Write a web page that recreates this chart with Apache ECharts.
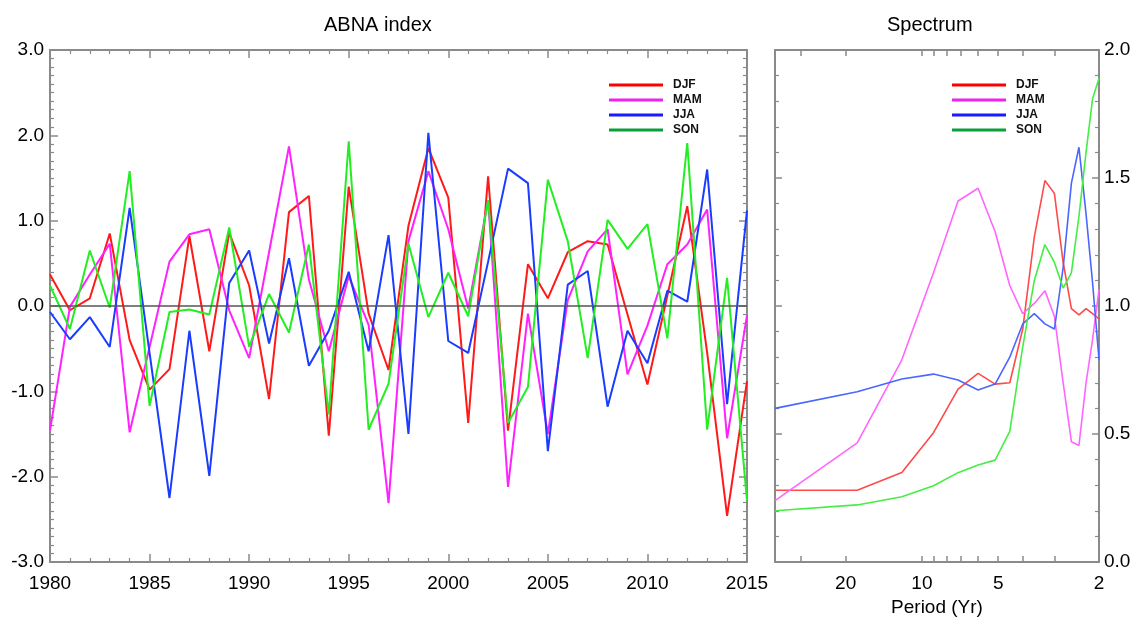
<!DOCTYPE html>
<html>
<head>
<meta charset="utf-8">
<script src="https://cdn.jsdelivr.net/npm/echarts@6/dist/echarts.min.js"></script>
<style>
html,body{margin:0;padding:0;background:#fff;}
#chart{width:1143px;height:626px;}
</style>
</head>
<body>
<div id="chart"></div>
<script>
// ---- ABNA index (left panel) ----
const years = [1980,1981,1982,1983,1984,1985,1986,1987,1988,1989,1990,1991,1992,1993,1994,1995,1996,1997,1998,1999,2000,2001,2002,2003,2004,2005,2006,2007,2008,2009,2010,2011,2012,2013,2014,2015];
const djf = [0.37,-0.05,0.09,0.85,-0.40,-0.98,-0.74,0.82,-0.53,0.86,0.24,-1.09,1.10,1.29,-1.52,1.40,-0.09,-0.75,0.94,1.85,1.27,-1.37,1.52,-1.46,0.49,0.09,0.63,0.76,0.72,-0.10,-0.92,0.12,1.17,-0.55,-2.46,-0.88];
const mam = [-1.46,-0.01,0.37,0.73,-1.48,-0.48,0.52,0.84,0.90,-0.05,-0.61,0.63,1.87,0.31,-0.53,0.35,-0.22,-2.31,0.76,1.58,0.90,-0.03,1.24,-2.12,-0.09,-1.50,0.07,0.64,0.90,-0.80,-0.23,0.49,0.72,1.13,-1.55,-0.11];
const jja = [-0.07,-0.39,-0.13,-0.48,1.15,-0.55,-2.25,-0.29,-1.99,0.27,0.65,-0.44,0.56,-0.70,-0.29,0.40,-0.53,0.83,-1.50,2.03,-0.41,-0.55,0.52,1.61,1.44,-1.70,0.25,0.41,-1.18,-0.29,-0.67,0.18,0.05,1.60,-1.15,1.12];
const son = [0.24,-0.27,0.65,-0.02,1.58,-1.17,-0.07,-0.04,-0.10,0.92,-0.48,0.14,-0.31,0.72,-1.27,1.93,-1.45,-0.91,0.73,-0.13,0.39,-0.12,1.24,-1.37,-0.95,1.48,0.76,-0.61,1.01,0.67,0.96,-0.38,1.91,-1.45,0.33,-2.28];

// ---- Spectrum (right panel) ----
const periods = [38,18,12,9,7.2,6,5.14,4.5,4,3.6,3.27,3,2.77,2.57,2.4,2.25,2.12,2];
const djfSpec = [0.28,0.28,0.35,0.505,0.675,0.737,0.695,0.70,0.91,1.27,1.49,1.44,1.17,0.99,0.965,0.99,0.97,0.95];
const mamSpec = [0.24,0.465,0.79,1.13,1.41,1.46,1.29,1.08,0.97,1.01,1.06,0.96,0.70,0.47,0.455,0.70,0.87,1.065];
const jjaSpec = [0.60,0.665,0.715,0.734,0.711,0.672,0.695,0.80,0.93,0.97,0.93,0.91,1.15,1.48,1.62,1.36,1.09,0.79];
const sonSpec = [0.20,0.223,0.255,0.298,0.349,0.379,0.398,0.51,0.84,1.10,1.24,1.17,1.07,1.13,1.35,1.60,1.81,1.89];

const periodLabels = [20,10,5,2];
const periodTicks = [30,20,10,9,8,7,6,5,4,3,2];
const seasons = ['DJF','MAM','JJA','SON'];

const lineColors = ['#ff1a1a','#ff22ff','#1a3cff','#22ee22'];
const specColors = ['#ff4a4a','#ff66ff','#4a66ff','#44ee44'];
const legendColors = ['#ff0000','#ee22ee','#1a1aff','#0a9f3c'];

const FONT = 'Liberation Sans, Arial, sans-serif';
const AX = '#8a8a8a';
const lg = Math.log10;

const chart = echarts.init(document.getElementById('chart'), null, {renderer:'canvas'});

const axLine = {show:true, onZero:false, lineStyle:{color:AX, width:2}};
const tick = (len)=>({show:true, inside:true, length:len, lineStyle:{color:AX, width:1.5}});
const minor = (n)=>({show:true, splitNumber:n, length:4, lineStyle:{color:AX, width:1.2}});
const lbl = {color:'#000', fontSize:19, fontFamily:FONT};

const idxSeries = [djf,mam,jja,son].map((arr,i)=>({
  name: seasons[i], type:'line', xAxisIndex:0, yAxisIndex:0,
  data: years.map((y,k)=>[y, arr[k]]),
  symbol:'none', lineStyle:{color:lineColors[i], width:2}, itemStyle:{color:lineColors[i]},
  z: 3, animation:false,
  markLine: i===0 ? {silent:true, symbol:'none', label:{show:false},
    lineStyle:{color:'#555', width:1.5, type:'solid'}, data:[{yAxis:0}]} : undefined
}));
const specSeries = [djfSpec,mamSpec,jjaSpec,sonSpec].map((arr,i)=>({
  name: seasons[i], type:'line', xAxisIndex:2, yAxisIndex:2,
  data: periods.map((p,k)=>[lg(p), arr[k]]),
  symbol:'none', lineStyle:{color:specColors[i], width:1.6}, itemStyle:{color:specColors[i]},
  z: 3, animation:false
}));

const legendData = seasons.map((s,i)=>({name:s, itemStyle:{color:legendColors[i]}}));
const legendBase = {
  orient:'vertical', icon:'rect', itemWidth:54, itemHeight:3, itemGap:3,
  textStyle:{fontSize:12, fontWeight:'bold', fontFamily:FONT, color:'#111', padding:[0,0,0,5]},
  data: legendData, selectedMode:false
};

chart.setOption({
  animation:false,
  backgroundColor:'#fff',
  title:[
    {text:'ABNA index', left:319, top:10, textStyle:{fontSize:20, fontWeight:'normal', fontFamily:FONT, color:'#000'}},
    {text:'Spectrum', left:882, top:10, textStyle:{fontSize:20, fontWeight:'normal', fontFamily:FONT, color:'#000'}}
  ],
  legend:[
    Object.assign({left:604, top:74}, legendBase),
    Object.assign({left:947, top:74}, legendBase)
  ],
  grid:[
    {left:50, top:50, width:697, height:512, containLabel:false},
    {left:775, top:50, width:324, height:512, containLabel:false}
  ],
  xAxis:[
    {type:'value', gridIndex:0, position:'bottom', min:1980, max:2015, interval:5,
     axisLine:axLine, axisTick:tick(8), minorTick:minor(5), splitLine:{show:false},
     axisLabel:Object.assign({margin:12, formatter:(v)=>String(v)}, lbl)},
    {type:'value', gridIndex:0, position:'top', min:1980, max:2015, interval:5,
     axisLine:axLine, axisTick:tick(8), minorTick:minor(5), splitLine:{show:false},
     axisLabel:{show:false}},
    {type:'value', gridIndex:1, position:'bottom', inverse:true, min:lg(2), max:lg(38),
     axisLine:axLine, splitLine:{show:false},
     axisTick:Object.assign(tick(6), {customValues: periodTicks.map(lg)}),
     axisLabel:Object.assign({margin:12, customValues: periodLabels.map(lg),
        formatter:(v)=>String(Math.round(Math.pow(10,v)))}, lbl),
     name:'Period (Yr)', nameLocation:'middle', nameGap:34,
     nameTextStyle:{fontSize:19, fontFamily:FONT, color:'#000'}},
    {type:'value', gridIndex:1, position:'top', inverse:true, min:lg(2), max:lg(38),
     axisLine:axLine, splitLine:{show:false},
     axisTick:Object.assign(tick(6), {customValues: periodTicks.map(lg)}),
     axisLabel:{show:false}}
  ],
  yAxis:[
    {type:'value', gridIndex:0, position:'left', min:-3, max:3, interval:1,
     axisLine:axLine, axisTick:tick(8), minorTick:minor(10), splitLine:{show:false},
     axisLabel:Object.assign({margin:6, formatter:(v)=>v.toFixed(1)}, lbl)},
    {type:'value', gridIndex:0, position:'right', min:-3, max:3, interval:1,
     axisLine:axLine, axisTick:tick(8), minorTick:minor(10), splitLine:{show:false},
     axisLabel:{show:false}},
    {type:'value', gridIndex:1, position:'right', min:0, max:2, interval:0.5,
     axisLine:axLine, axisTick:tick(7), minorTick:minor(5), splitLine:{show:false},
     axisLabel:Object.assign({margin:5, formatter:(v)=>v.toFixed(1)}, lbl)},
    {type:'value', gridIndex:1, position:'left', min:0, max:2, interval:0.5,
     axisLine:axLine, axisTick:tick(7), minorTick:minor(5), splitLine:{show:false},
     axisLabel:{show:false}}
  ],
  series: idxSeries.concat(specSeries)
});
</script>
</body>
</html>
